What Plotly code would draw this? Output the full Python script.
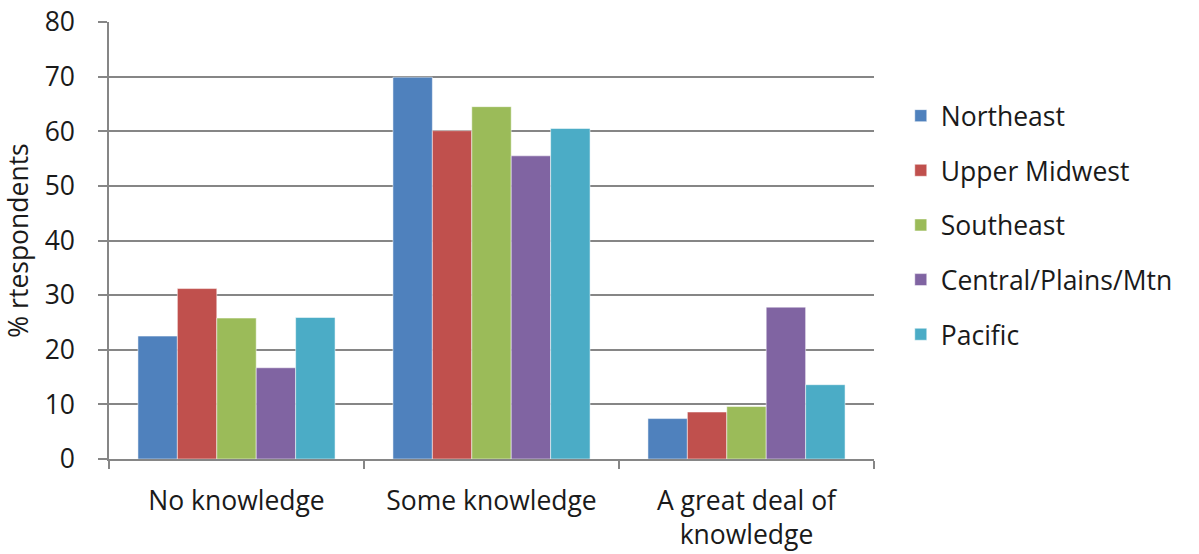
import plotly.graph_objects as go

# Data
categories = ["No knowledge", "Some knowledge", "A great deal of<br>knowledge"]
regions = ["Northeast", "Upper Midwest", "Southeast", "Central/Plains/Mtn", "Pacific"]
northeast = [22.5, 69.9, 7.4]
upper_midwest = [31.2, 60.1, 8.6]
southeast = [25.8, 64.5, 9.6]
central = [16.7, 55.5, 27.8]
pacific = [25.9, 60.5, 13.6]
values = [northeast, upper_midwest, southeast, central, pacific]
colors = ["#4F81BD", "#C0504D", "#9BBB59", "#8064A2", "#4BACC6"]

FONT = "Open Sans"
FS = 26.5
TXT = "#1a1a1a"
fnt = dict(family=FONT, size=FS, color=TXT)

fig = go.Figure()
for name, vals, col in zip(regions, values, colors):
    fig.add_trace(go.Bar(
        x=categories, y=vals, name=name,
        marker=dict(color=col, line=dict(color="rgba(255,255,255,0.5)", width=1)),
        legendgroup=name,
    ))

fig.update_layout(
    width=1199, height=554,
    margin=dict(l=109, r=325, t=22, b=95),
    paper_bgcolor="white", plot_bgcolor="white",
    barmode="group", bargap=0.227, bargroupgap=0,
    font=fnt,
    legend=dict(
        x=1.035, y=0.84, xanchor="left", yanchor="top",
        font=fnt,
        traceorder="grouped", tracegroupgap=17.2,
        itemwidth=30,
    ),
    showlegend=True,
)

fig.update_xaxes(
    showline=True, linecolor="#868686", linewidth=1.5,
    ticks="outside", tickcolor="#868686", ticklen=8, tickwidth=1.5,
    tickson="boundaries", ticklabelstandoff=17,
    showgrid=False, automargin=False,
    tickfont=fnt,
)
fig.update_yaxes(
    range=[0, 80.001], dtick=10,
    showline=True, linecolor="#868686", linewidth=1.5,
    ticks="outside", tickcolor="#868686", ticklen=9, tickwidth=1.5,
    ticklabelstandoff=18, ticklabeloverflow="allow",
    showgrid=True, gridcolor="#868686", gridwidth=1.5,
    zeroline=False, automargin=False,
    tickfont=fnt,
    title=dict(text="% rtespondents", standoff=13, font=fnt),
)

# drop the default page margin so the figure fills the window exactly
fig.write_html("out.html", config={"displayModeBar": False},
               post_script="document.body.style.margin='0';")
